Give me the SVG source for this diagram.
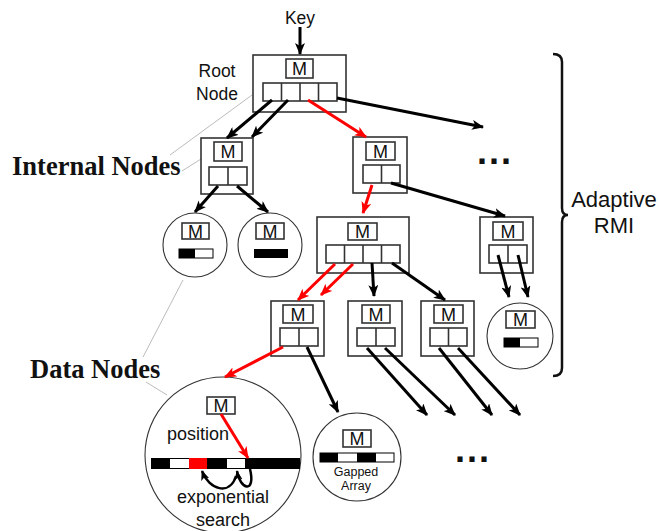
<svg xmlns="http://www.w3.org/2000/svg" width="659" height="531" viewBox="0 0 659 531">
<style>
.nd{fill:#fff;stroke:#333;stroke-width:1.6}
.mb{fill:#fff;stroke:#333;stroke-width:1.6}
.sl{fill:#fff;stroke:#333;stroke-width:1.6}
.dv{stroke:#333;stroke-width:1.6}
.cir{fill:#fff;stroke:#333;stroke-width:1.1}
.mt{font-family:"Liberation Sans",Arial,sans-serif;font-size:18px;text-anchor:middle;fill:#111}
.lab{font-family:"Liberation Sans",Arial,sans-serif;fill:#111}
.big{font-family:"Liberation Serif","Times New Roman",serif;font-weight:bold;font-size:26.5px;fill:#111}
.blk{stroke:#000;stroke-width:3;fill:none;marker-end:url(#ah)}
.red{stroke:#f00;stroke-width:3;fill:none;marker-end:url(#ahr)}
.crv{stroke:#000;stroke-width:2.5;fill:none;marker-end:url(#ahs)}
.gl{stroke:#aaa;stroke-width:0.8;fill:none}
</style>
<defs>
<marker id="ah" viewBox="0 0 12 10" refX="11" refY="5" markerWidth="12" markerHeight="10" markerUnits="userSpaceOnUse" orient="auto"><path d="M0,0 L12,5 L0,10 L3,5 z" fill="#000"/></marker>
<marker id="ahr" viewBox="0 0 12 10" refX="11" refY="5" markerWidth="12" markerHeight="10" markerUnits="userSpaceOnUse" orient="auto"><path d="M0,0 L12,5 L0,10 L3,5 z" fill="#f00"/></marker>
<marker id="ahs" viewBox="0 0 12 10" refX="11" refY="5" markerWidth="10" markerHeight="9" markerUnits="userSpaceOnUse" orient="auto"><path d="M0,0 L12,5 L0,10 L3,5 z" fill="#000"/></marker>
</defs>
<rect width="659" height="531" fill="#fff"/>

<g id="labels">
<line class="gl" x1="252" y1="95" x2="170" y2="155"/>
<line class="gl" x1="201" y1="159" x2="182" y2="171"/>
<line class="gl" x1="183" y1="280" x2="143" y2="357"/>
<line class="gl" x1="146" y1="382" x2="167" y2="395"/>
<text class="big" x="12" y="175">Internal Nodes</text>
<text class="big" x="30" y="378">Data Nodes</text>
<text class="lab" x="300" y="24" font-size="17.5" text-anchor="middle">Key</text>
<text class="lab" x="217" y="77" font-size="17.5" text-anchor="middle">Root</text>
<text class="lab" x="217" y="100" font-size="17.5" text-anchor="middle">Node</text>
<text class="lab" x="614" y="207" font-size="22" text-anchor="middle">Adaptive</text>
<text class="lab" x="614" y="233" font-size="22" text-anchor="middle">RMI</text>
<path d="M553,54 Q562,54 562,62 L562,208 Q562,215 568,215 Q562,215 562,222 L562,368 Q562,376 553,376" fill="none" stroke="#111" stroke-width="2.5"/>
<text class="lab" x="477" y="164" font-size="36" font-weight="bold" letter-spacing="2">...</text>
<text class="lab" x="455" y="462" font-size="36" font-weight="bold" letter-spacing="2">...</text>
</g>

<g id="root">
<rect class="nd" x="253" y="55" width="93" height="57"/>
<rect class="mb" x="286" y="59" width="27" height="19"/><text class="mt" x="299.5" y="75">M</text>
<rect class="sl" x="263" y="83" width="74" height="18"/>
<line class="dv" x1="281.5" y1="83" x2="281.5" y2="101"/><line class="dv" x1="300" y1="83" x2="300" y2="101"/><line class="dv" x1="318.5" y1="83" x2="318.5" y2="101"/>
</g>

<g id="int-left">
<rect class="nd" x="201" y="138" width="52" height="56"/>
<rect class="mb" x="214" y="142" width="28" height="19"/><text class="mt" x="228" y="158">M</text>
<rect class="sl" x="209" y="167" width="38" height="18"/><line class="dv" x1="228" y1="167" x2="228" y2="185"/>
</g>

<g id="int-mid">
<rect class="nd" x="353" y="137" width="54" height="56"/>
<rect class="mb" x="366" y="142" width="29" height="18"/><text class="mt" x="380.5" y="157.5">M</text>
<rect class="sl" x="363" y="165" width="37" height="18"/><line class="dv" x1="381.5" y1="165" x2="381.5" y2="183"/>
</g>

<g id="int-big">
<rect class="nd" x="317" y="217" width="92" height="56"/>
<rect class="mb" x="348" y="223" width="29" height="17"/><text class="mt" x="362.5" y="238">M</text>
<rect class="sl" x="326" y="245" width="74" height="18"/>
<line class="dv" x1="344.5" y1="245" x2="344.5" y2="263"/><line class="dv" x1="363" y1="245" x2="363" y2="263"/><line class="dv" x1="381.5" y1="245" x2="381.5" y2="263"/>
</g>

<g id="int-right">
<rect class="nd" x="480" y="217" width="53" height="56"/>
<rect class="mb" x="493" y="222" width="30" height="18"/><text class="mt" x="508" y="237.5">M</text>
<rect class="sl" x="489" y="245" width="38" height="18"/><line class="dv" x1="508" y1="245" x2="508" y2="263"/>
</g>

<g id="int-a">
<rect class="nd" x="271" y="301" width="53" height="55"/>
<rect class="mb" x="283" y="305" width="30" height="18"/><text class="mt" x="298" y="320.5">M</text>
<rect class="sl" x="280" y="328" width="38" height="18"/><line class="dv" x1="299" y1="328" x2="299" y2="346"/>
</g>

<g id="int-b">
<rect class="nd" x="348" y="301" width="54" height="55"/>
<rect class="mb" x="362" y="305" width="28" height="18"/><text class="mt" x="376" y="320.5">M</text>
<rect class="sl" x="357" y="328" width="38" height="18"/><line class="dv" x1="376" y1="328" x2="376" y2="346"/>
</g>

<g id="int-c">
<rect class="nd" x="421" y="301" width="53" height="55"/>
<rect class="mb" x="434" y="305" width="29" height="18"/><text class="mt" x="448.5" y="320.5">M</text>
<rect class="sl" x="430" y="328" width="37" height="18"/><line class="dv" x1="448.5" y1="328" x2="448.5" y2="346"/>
</g>

<g id="data-l1">
<circle class="cir" cx="195" cy="245" r="32"/>
<rect class="mb" x="182" y="223" width="27" height="16"/><text class="mt" x="195.5" y="237.5">M</text>
<rect x="179" y="249" width="34" height="9" fill="#fff" stroke="#000" stroke-width="1"/><rect x="179" y="249" width="16" height="9" fill="#000"/>
</g>

<g id="data-l2">
<circle class="cir" cx="270" cy="245" r="32"/>
<rect class="mb" x="256" y="223" width="28" height="16"/><text class="mt" x="270" y="237.5">M</text>
<rect x="254" y="249" width="34" height="9" fill="#000"/>
</g>

<g id="data-right">
<circle class="cir" cx="520" cy="336" r="33"/>
<rect class="mb" x="506" y="311" width="29" height="17"/><text class="mt" x="520.5" y="326">M</text>
<rect x="504" y="338" width="34" height="9" fill="#fff" stroke="#000" stroke-width="1"/><rect x="504" y="338" width="16" height="9" fill="#000"/>
</g>

<g id="data-big">
<circle class="cir" cx="223" cy="455" r="78"/>
<rect class="mb" x="207" y="397" width="28" height="17"/><text class="mt" x="221" y="412">M</text>
<text class="lab" x="167" y="440" font-size="18">position</text>
<rect x="151" y="458" width="149" height="11" fill="#000"/>
<rect x="170" y="459" width="19" height="9" fill="#fff"/>
<rect x="189" y="458" width="18" height="11" fill="#f00"/>
<rect x="227" y="459" width="18" height="9" fill="#fff"/>
<text class="lab" x="223" y="503" font-size="18" text-anchor="middle">exponential</text>
<text class="lab" x="223" y="526" font-size="18" text-anchor="middle">search</text>
</g>

<g id="data-gapped">
<circle class="cir" cx="357" cy="457" r="44"/>
<rect class="mb" x="343" y="430" width="28" height="17"/><text class="mt" x="357" y="445">M</text>
<rect x="320" y="453" width="74" height="9" fill="#fff" stroke="#000" stroke-width="1"/>
<rect x="320" y="453" width="18" height="9" fill="#000"/>
<rect x="357" y="453" width="19" height="9" fill="#000"/>
<text class="lab" x="356" y="476" font-size="12.5" text-anchor="middle">Gapped</text>
<text class="lab" x="356" y="490" font-size="12.5" text-anchor="middle">Array</text>
</g>

<g id="connectors">
<line class="blk" x1="300" y1="27" x2="300" y2="54"/>
<line class="blk" x1="272" y1="100" x2="227" y2="138"/>
<line class="blk" x1="288" y1="100" x2="252" y2="137"/>
<line class="red" x1="308" y1="100" x2="366" y2="137"/>
<line class="blk" x1="337" y1="98" x2="483" y2="127"/>
<line class="blk" x1="218" y1="186" x2="195" y2="212"/>
<line class="blk" x1="237" y1="186" x2="268" y2="212"/>
<line class="red" x1="372" y1="185" x2="363" y2="213"/>
<line class="blk" x1="391" y1="183" x2="505" y2="216"/>
<line class="blk" x1="498" y1="255" x2="509" y2="297"/>
<line class="blk" x1="518" y1="255" x2="528" y2="297"/>
<line class="red" x1="335" y1="264" x2="298" y2="300"/>
<line class="red" x1="353" y1="264" x2="321" y2="295"/>
<line class="blk" x1="372" y1="263" x2="374" y2="296"/>
<line class="blk" x1="392" y1="263" x2="445" y2="300"/>
<line class="red" x1="283" y1="347" x2="225" y2="377"/>
<line class="blk" x1="307" y1="347" x2="338" y2="412"/>
<line class="blk" x1="367" y1="348" x2="427" y2="415"/>
<line class="blk" x1="385" y1="348" x2="455" y2="415"/>
<line class="blk" x1="439" y1="348" x2="492" y2="415"/>
<line class="blk" x1="458" y1="348" x2="520" y2="415"/>
<line class="red" x1="221" y1="414" x2="248" y2="458"/>
<path class="crv" d="M250,469 C256,494 240,490 237,471"/>
<path class="crv" d="M236,476 C230,496 209,490 202,471"/>
</g>
</svg>
